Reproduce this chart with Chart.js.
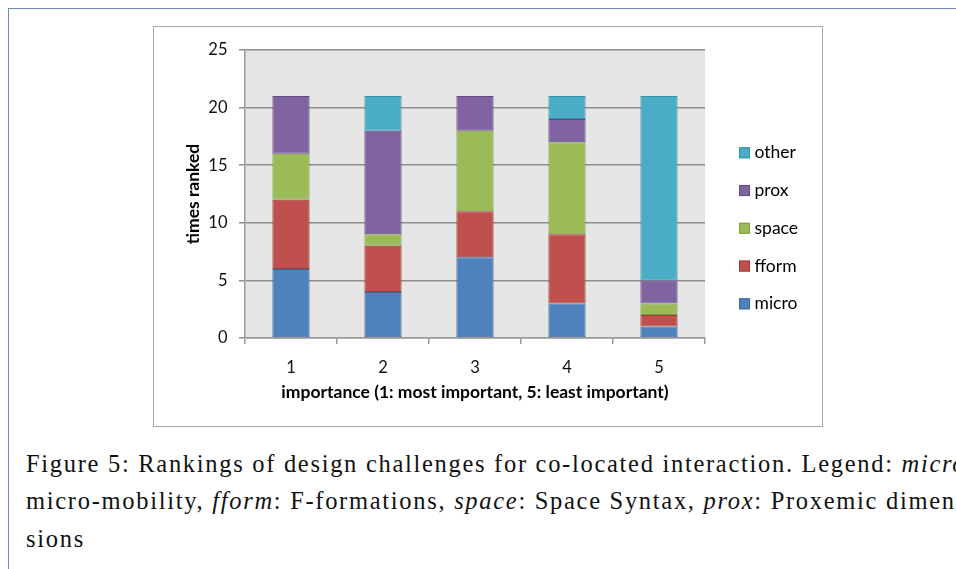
<!DOCTYPE html>
<html>
<head>
<meta charset="utf-8">
<script src="https://cdn.jsdelivr.net/npm/chart.js@4.4.1/dist/chart.umd.min.js"></script>
<style>
  html, body { margin:0; padding:0; background:#fff; width:956px; height:569px; overflow:hidden; }
  #frame { position:absolute; left:8px; top:8px; width:2000px; height:2000px; border:1.5px solid #6f8db0; box-sizing:border-box; }
  #box { position:absolute; left:153px; top:26px; width:670px; height:401px; border:1.5px solid #a8a8a8; box-sizing:border-box; background:#fff; }
  #c { position:absolute; left:153px; top:26px; }
  .cap { position:absolute; left:26px; white-space:nowrap; font-family:"Liberation Serif","Times New Roman",serif; font-size:24.5px; letter-spacing:1.7px; color:#111; line-height:37.5px; }
  .cap i { font-style:italic; }
</style>
</head>
<body>
<div id="frame"></div>
<div id="box"></div>
<canvas id="c" width="670" height="401"></canvas>
<div class="cap" style="top:444.5px">Figure 5: Rankings of design challenges for co-located interaction. Legend: <i>micro</i>:</div>
<div class="cap" style="top:482px">micro-mobility, <i>fform</i>: F-formations, <i>space</i>: Space Syntax, <i>prox</i>: Proxemic dimen-</div>
<div class="cap" style="top:519.5px">sions</div>
<script>
const categories = ["1", "2", "3", "4", "5"];
const seriesNames = ["micro", "fform", "space", "prox", "other"];
const micro = [6, 4, 7, 3, 1];
const fform = [6, 4, 4, 6, 1];
const space = [4, 1, 7, 8, 1];
const prox  = [5, 9, 3, 2, 2];
const other = [0, 3, 0, 2, 16];
const yTicks = [0, 5, 10, 15, 20, 25];

const fills   = ["#4f81bd", "#c0504d", "#9bbb59", "#8064a2", "#4bacc6"];
const borders = ["#3b679c", "#9c3c39", "#7d9a42", "#614a82", "#3a8fa7"];
const values = [micro, fform, space, prox, other];

const FONT = "Lato";

const bgPlugin = {
  id: 'bg',
  beforeDraw(chart) {
    const {ctx, chartArea: a} = chart;
    ctx.save();
    ctx.fillStyle = '#e6e6e6';
    ctx.fillRect(a.left, a.top, a.right - a.left, a.bottom - a.top);
    ctx.restore();
  }
};

const legendPlugin = {
  id: 'customLegend',
  afterDraw(chart) {
    const ctx = chart.ctx;
    const ds = chart.data.datasets;
    ctx.save();
    ctx.font = "17.5px " + FONT;
    ctx.textBaseline = 'middle';
    ctx.textAlign = 'left';
    let k = 0;
    for (let i = ds.length - 1; i >= 0; i--) {
      const cy = 126.8 + k * 37.75;
      ctx.fillStyle = ds[i].backgroundColor;
      ctx.fillRect(586, cy - 5.5, 11, 11);
      ctx.strokeStyle = ds[i].borderColor;
      ctx.lineWidth = 1;
      ctx.strokeRect(586.5, cy - 5, 10, 10);
      ctx.fillStyle = '#000';
      ctx.fillText(ds[i].label, 601.5, cy);
      k++;
    }
    ctx.restore();
  }
};

new Chart(document.getElementById('c'), {
  type: 'bar',
  data: {
    labels: categories,
    datasets: seriesNames.map((n, i) => ({
      label: n,
      data: values[i],
      backgroundColor: fills[i],
      borderColor: borders[i],
      borderWidth: 1,
      borderSkipped: false,
      barPercentage: 0.405,
      categoryPercentage: 1.0
    }))
  },
  options: {
    responsive: false,
    animation: false,
    devicePixelRatio: 1,
    layout: { padding: { left: 0, top: 24, right: 118, bottom: 0 } },
    plugins: { legend: { display: false }, tooltip: { enabled: false } },
    scales: {
      x: {
        stacked: true,
        grid: { drawOnChartArea: false, drawTicks: true, tickLength: 6, color: '#9a9a9a', lineWidth: 1.5, offset: true },
        border: { color: '#9a9a9a', width: 1.5 },
        ticks: { padding: 14, color: '#111', font: { family: FONT, size: 16.5 } },
        title: { display: true, text: 'importance (1: most important, 5: least important)', color: '#000',
                 font: { family: FONT, size: 17.5, weight: 'bold', lineHeight: 1 }, padding: { bottom: 26 } },
        afterFit(s) { s.height = 89; }
      },
      y: {
        stacked: true,
        min: 0, max: 25,
        afterBuildTicks(s) { s.ticks = yTicks.map(v => ({ value: v })); },
        grid: { color: '#8e8e8e', lineWidth: 1.5, tickLength: 6, drawTicks: true },
        border: { color: '#9a9a9a', width: 1.5 },
        ticks: { padding: 11.5, color: '#111', font: { family: FONT, size: 16.5 } },
        title: { display: true, text: 'times ranked', color: '#000',
                 font: { family: FONT, size: 17.5, weight: 'bold', lineHeight: 1 }, padding: { top: 31.5 } },
        afterFit(s) { s.width = 92; }
      }
    }
  },
  plugins: [bgPlugin, legendPlugin]
});
</script>
</body>
</html>
